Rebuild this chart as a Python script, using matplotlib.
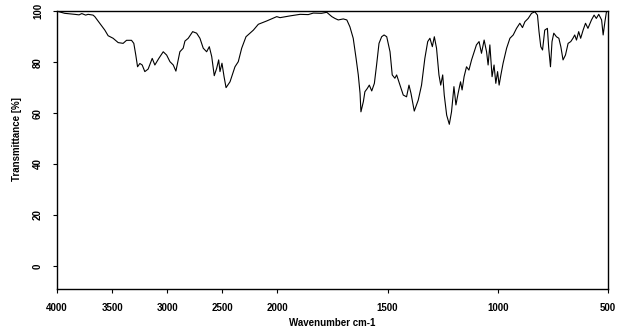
import matplotlib
matplotlib.use("Agg")
import matplotlib.pyplot as plt
import numpy as np

# IR spectrum (wavenumber in cm-1, transmittance in %)
wavenumber = [
    3996, 3930, 3880, 3839, 3800, 3775, 3740, 3718, 3673, 3657, 3612, 3566, 3536,
    3491, 3445, 3400, 3369, 3324, 3303, 3285, 3269, 3248, 3227, 3203, 3173, 3136,
    3112, 3076, 3036, 3005, 2975, 2945, 2921, 2885, 2855, 2839, 2809, 2769, 2733,
    2703, 2673, 2642, 2618, 2596, 2573, 2551, 2533, 2521, 2503, 2484, 2466, 2430,
    2385, 2355, 2324, 2285, 2218, 2173, 2097, 2006, 1988, 1942, 1897, 1860, 1837,
    1800, 1776, 1753, 1739, 1724, 1701, 1685, 1671, 1656, 1643, 1633, 1625, 1621,
    1610, 1603, 1592, 1583, 1572, 1560, 1550, 1539, 1527, 1516, 1504, 1489, 1479,
    1467, 1459, 1444, 1429, 1414, 1403, 1394, 1379, 1361, 1346, 1331, 1318, 1308,
    1297, 1288, 1278, 1267, 1259, 1250, 1243, 1232, 1220, 1210, 1199, 1190, 1180,
    1169, 1162, 1153, 1142, 1131, 1119, 1112, 1097, 1085, 1074, 1062, 1051, 1044,
    1036, 1026, 1017, 1009, 1001, 994, 986, 976, 960, 945, 930, 915, 900, 888,
    877, 862, 847, 832, 820, 813, 805, 797, 787, 775, 769, 761, 754, 746, 734,
    723, 714, 704, 693, 681, 669, 659, 651, 643, 633, 624, 613, 602, 591, 575,
    563, 553, 542, 529, 522, 514, 507, 503,
]
transmittance = [
    100.0, 99.2, 99.0, 98.8, 98.6, 99.1, 98.5, 98.8, 98.5, 97.9, 95.3, 92.6, 90.4,
    89.4, 87.7, 87.4, 88.6, 88.6, 87.4, 82.8, 78.2, 79.5, 78.9, 76.3, 77.3, 81.5,
    78.9, 81.5, 84.1, 82.8, 80.2, 78.9, 76.5, 84.1, 85.5, 88.3, 89.4, 92.0, 91.4,
    89.4, 85.5, 84.1, 86.1, 82.2, 74.7, 77.6, 80.9, 76.3, 79.6, 74.3, 70.0, 72.3,
    78.2, 80.2, 85.5, 90.0, 92.6, 94.9, 96.2, 97.9, 97.5, 98.2, 98.8, 98.7, 99.3,
    99.2, 99.6, 97.9, 97.2, 96.6, 97.0, 96.6, 93.9, 89.4, 81.5, 75.0, 67.8, 60.5,
    64.5, 68.4, 69.7, 71.0, 68.7, 71.7, 78.9, 87.4, 90.0, 90.7, 90.0, 84.1, 75.0,
    73.7, 75.0, 71.0, 67.1, 66.4, 71.0, 67.8, 60.8, 65.1, 71.0, 81.5, 88.1, 89.4,
    86.1, 90.0, 85.5, 75.0, 71.0, 75.0, 67.1, 59.2, 55.6, 60.5, 70.4, 63.2, 67.8,
    72.3, 69.1, 74.3, 78.2, 76.9, 80.9, 82.8, 86.8, 88.1, 83.5, 88.7, 84.1, 78.9,
    86.8, 74.3, 78.9, 71.7, 76.3, 71.0, 75.0, 79.6, 85.5, 89.4, 90.7, 93.3, 95.3, 93.6,
    95.9, 97.2, 99.2, 99.8, 98.5, 92.0, 86.1, 84.8, 92.6, 93.3, 85.5, 78.2, 88.1, 91.4,
    90.0, 89.4, 86.1, 80.9, 82.8, 87.4, 88.1, 89.4, 90.7, 88.7, 92.0, 89.4, 92.6, 95.3,
    93.3, 96.6, 98.5, 97.2, 98.8, 96.6, 90.7, 95.9, 99.8, 100.2,
]
x_ticks = [4000, 3500, 3000, 2500, 2000, 1500, 1000, 500]
y_ticks = [0, 20, 40, 60, 80, 100]

FONT = "Liberation Sans"


# scale break at 2000 cm-1: the range above it is drawn at half scale
def fwd(x):
    x = np.asarray(x, dtype=float)
    return np.where(x > 2000, 2000 + (x - 2000) / 2.0, x)


def inv(u):
    u = np.asarray(u, dtype=float)
    return np.where(u > 2000, 2000 + (u - 2000) * 2.0, u)


fig = plt.figure(figsize=(6.25, 3.31), dpi=100)
fig.patch.set_facecolor("white")
ax = fig.add_axes([0.0912, 0.1269, 0.8816, 0.839])

ax.plot(wavenumber, transmittance, color="black", lw=0.8)

ax.set_xscale("function", functions=(fwd, inv))
ax.set_xlim(4000, 500)
ax.set_ylim(-9.1, 100)
ax.set_xticks(x_ticks)
ax.set_yticks(y_ticks)
ax.minorticks_off()

for s in ax.spines.values():
    s.set_linewidth(1.0)

ax.tick_params(direction="out", length=3, width=0.8, pad=7,
               labelsize=7)
for lab in ax.get_xticklabels():
    lab.set_fontfamily(FONT)
    lab.set_fontweight("bold")
for lab in ax.get_yticklabels():
    lab.set_fontfamily(FONT)
    lab.set_fontweight("bold")
    lab.set_rotation(90)
    lab.set_va("center")

ax.set_xlabel("Wavenumber cm-1", fontsize=7, fontweight="bold",
              family=FONT, labelpad=4)
ax.set_ylabel("Transmittance [%]", fontsize=7, fontweight="bold",
              family=FONT, labelpad=4)
# the reference's y label sits a little above the axes centre
ax.yaxis.set_label_coords(-0.064, 0.54)

fig.savefig("out.png", dpi=100, facecolor="white")
